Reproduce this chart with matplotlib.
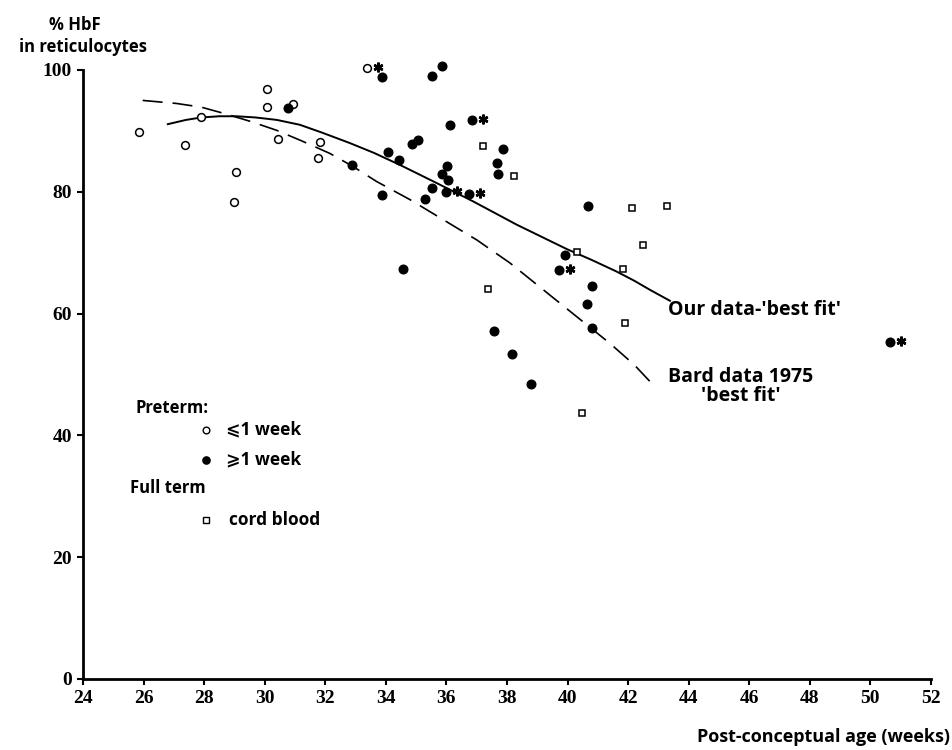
import numpy as np
import matplotlib
matplotlib.use("Agg")
import matplotlib.pyplot as plt
import matplotlib.transforms as mtransforms

# preterm, sampled at <= 1 week (open circles)
open_x = [25.84, 27.38, 27.9, 29.04, 29.0, 30.07, 30.07, 30.93, 30.45, 31.83, 31.77, 33.37]
open_y = [89.8, 87.6, 92.2, 83.2, 78.4, 96.8, 93.9, 94.4, 88.6, 88.1, 85.6, 100.4]
open_star = [False] * 11 + [True]

# preterm, sampled at >= 1 week (filled circles)
filled_x = [30.77, 33.86, 32.88, 34.08, 34.44, 33.86, 34.57, 34.86, 35.05, 35.29,
            35.53, 35.86, 36.84, 36.13, 37.87, 37.68, 37.71, 36.03, 35.87, 36.04,
            35.54, 35.98, 36.76, 40.69, 39.91, 39.73, 40.81, 40.65, 40.8, 37.57,
            38.18, 38.8, 50.64]
filled_y = [93.8, 98.8, 84.4, 86.5, 85.2, 79.4, 67.4, 87.8, 88.5, 78.8,
            99.0, 100.7, 91.8, 90.9, 87.1, 84.8, 82.9, 84.2, 83.0, 81.9,
            80.6, 79.9, 79.6, 77.6, 69.6, 67.1, 64.6, 61.5, 57.6, 57.1,
            53.3, 48.4, 55.3]
filled_star = [False] * 33
for i in (12, 21, 22, 25, 32):
    filled_star[i] = True

# full term cord blood (open squares)
cord_x = [37.2, 38.24, 42.12, 42.5, 40.31, 41.84, 37.38, 43.29, 41.9, 40.48]
cord_y = [87.5, 82.6, 77.4, 71.3, 70.1, 67.4, 64.0, 77.7, 58.5, 43.7]

# 'best fit' curves
ours_x = [26.8, 27.4, 27.9, 28.5, 29.07, 29.7, 30.4, 31.16, 31.9, 32.81, 33.6, 34.47,
          35.57, 36.89, 38.32, 39.97, 40.8, 41.62, 42.2, 42.72, 43.38]
ours_y = [91.1, 91.8, 92.2, 92.4, 92.4, 92.2, 91.8, 91.0, 89.7, 88.0, 86.4, 84.4,
          81.7, 78.4, 74.6, 70.6, 68.8, 66.9, 65.4, 63.9, 62.1]
bard_x = [25.97, 27.09, 27.9, 28.63, 29.5, 30.39, 31.2, 32.15, 32.9, 33.69, 34.8, 35.9,
          37.0, 38.1, 39.2, 40.3, 41.4, 42.2, 42.88]
bard_y = [95.0, 94.5, 93.9, 92.9, 91.6, 90.1, 88.4, 86.3, 84.2, 81.7, 78.7, 75.4,
          72.1, 68.3, 63.9, 59.5, 55.1, 51.6, 48.0]

x_ticks = list(range(24, 53, 2))
y_ticks = list(range(0, 101, 20))

SANS = ["Open Sans", "DejaVu Sans"]
SERIF = "Liberation Serif"

fig = plt.figure(figsize=(9.53, 7.5), dpi=100)
ax = fig.add_axes([0.0871, 0.0947, 0.8898, 0.812])

ax.plot(ours_x, ours_y, color="black", lw=1.4)
ax.plot(bard_x, bard_y, color="black", lw=1.2, dashes=(12, 6))

ax.plot(open_x, open_y, "o", ms=5.6, mfc="white", mec="black", mew=1.1, clip_on=False)
ax.plot(filled_x, filled_y, "o", ms=6.2, mfc="black", mec="black", clip_on=False)
ax.plot(cord_x, cord_y, "s", ms=5.0, mfc="white", mec="black", mew=1.1, clip_on=False)

# asterisks sit just right of flagged points
star_tr = ax.transData + mtransforms.ScaledTranslation(11 / 100, 1 / 100, fig.dpi_scale_trans)
sx = [x for x, s in zip(open_x, open_star) if s] + [x for x, s in zip(filled_x, filled_star) if s]
sy = [y for y, s in zip(open_y, open_star) if s] + [y for y, s in zip(filled_y, filled_star) if s]
ax.plot(sx, sy, ls="none", marker=(6, 2, 0), ms=7, mew=1.8, color="black",
        transform=star_tr, clip_on=False)

ax.set_xlim(24, 52)
ax.set_ylim(0, 100)
ax.set_xticks(x_ticks)
ax.set_yticks(y_ticks)
for side in ("top", "right"):
    ax.spines[side].set_visible(False)
for side in ("left", "bottom"):
    ax.spines[side].set_linewidth(2)
ax.tick_params(direction="out", length=4, width=1.5, pad=4)
for lab in ax.get_xticklabels() + ax.get_yticklabels():
    lab.set_fontfamily(SERIF)
    lab.set_fontweight("bold")
    lab.set_fontsize(14)

fig.text(0.079, 0.967, "% HbF", ha="center", va="center", family=SANS, weight="bold", fontsize=12)
fig.text(0.087, 0.937, "in reticulocytes", ha="center", va="center", family=SANS, weight="bold", fontsize=12)
fig.text(0.997, 0.017, "Post-conceptual age (weeks)", ha="right", va="center",
         family=SANS, weight="bold", fontsize=13)

ax.text(43.3, 60.6, "Our data-\u2032best fit\u2032", ha="left", va="center",
        family=SANS, weight="bold", fontsize=14)
ax.text(45.72, 49.6, "Bard data 1975", ha="center", va="center",
        family=SANS, weight="bold", fontsize=14)
ax.text(45.72, 46.4, "\u2032best fit\u2032", ha="center", va="center",
        family=SANS, weight="bold", fontsize=14)

# key
ax.text(25.74, 44.5, "Preterm:", ha="left", va="center", family=SANS, weight="bold", fontsize=12)
ax.plot([28.06], [40.9], "o", ms=4.8, mfc="white", mec="black", mew=1)
ax.text(28.72, 40.9, "\u2a7d1 week", ha="left", va="center", family=SANS, weight="bold", fontsize=12.5)
ax.plot([28.06], [36.0], "o", ms=5.2, mfc="black", mec="black")
ax.text(28.72, 36.0, "\u2a7e1 week", ha="left", va="center", family=SANS, weight="bold", fontsize=12.5)
ax.text(25.55, 31.3, "Full term", ha="left", va="center", family=SANS, weight="bold", fontsize=12)
ax.plot([28.06], [26.1], "s", ms=4.4, mfc="white", mec="black", mew=1)
ax.text(28.82, 26.1, "cord blood", ha="left", va="center", family=SANS, weight="bold", fontsize=12.5)

fig.savefig("out.png", dpi=100)
